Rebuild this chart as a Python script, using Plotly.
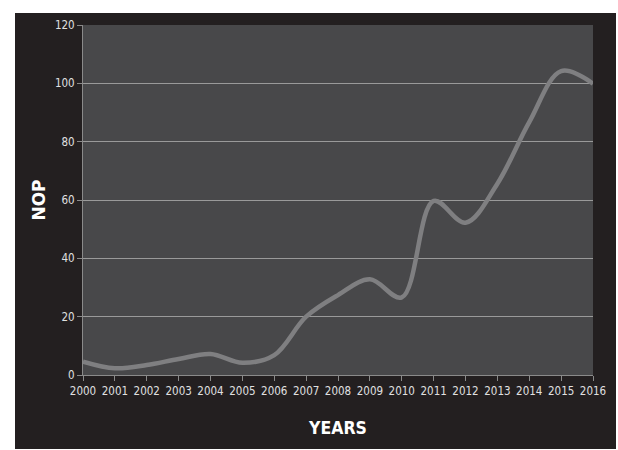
import plotly.graph_objects as go

years = list(range(2000, 2017))
nop = [4.6, 2.3, 3.4, 5.5, 7.2, 4.2, 6.8, 20.0, 27.4, 32.8, 26.6, 59.7, 52.2, 65.6, 86.7, 104.2, 99.9]
y_ticks = [0, 20, 40, 60, 80, 100, 120]

W, H = 618, 450
L, R, T, B = 83, 25, 25, 75
pw, ph = W - L - R, H - T - B

def px_x(px):
    return (px - L) / pw

def px_y(py):
    return (H - B - py) / ph

fig = go.Figure()
fig.add_trace(go.Scatter(
    x=years, y=nop, mode="lines",
    line=dict(color="#7f7f81", width=4.5, shape="spline", smoothing=1.0),
    hoverinfo="x+y", showlegend=False,
))

narrow = "DejaVu Sans Condensed, Liberation Sans Narrow, Arial Narrow, sans-serif"
tickfont = dict(family=narrow, size=11.5, color="#e0e0e0")

fig.update_layout(
    width=W, height=H,
    margin=dict(l=L, r=R, t=T, b=B, autoexpand=False),
    paper_bgcolor="#231f20",
    plot_bgcolor="#48484a",
    xaxis=dict(
        range=[2000, 2016], tickmode="array", tickvals=years, ticktext=[str(y) for y in years],
        showgrid=False, zeroline=False, showline=True, linecolor="#8a8a8a", linewidth=1,
        ticks="outside", ticklen=5, tickcolor="#8a8a8a", tickfont=tickfont, automargin=False,
        title=dict(text="<b>YEARS</b>", font=dict(family=narrow, size=17.5, color="#ffffff"), standoff=24),
    ),
    yaxis=dict(
        range=[0, 120], tickmode="array", tickvals=y_ticks,
        showgrid=True, gridcolor="#9a9a9a", gridwidth=1, zeroline=False,
        showline=True, linecolor="#8a8a8a", linewidth=1,
        ticks="outside", ticklen=5, tickcolor="#8a8a8a", tickfont=tickfont, automargin=False,
        title=dict(text="<b>NOP</b>", font=dict(family="DejaVu Sans, sans-serif", size=17, color="#ffffff"), standoff=5),
    ),
    shapes=[
        dict(type="rect", xref="paper", yref="paper", x0=px_x(0), x1=px_x(W), y0=px_y(13), y1=px_y(0),
             fillcolor="white", line=dict(width=0), layer="above"),
        dict(type="rect", xref="paper", yref="paper", x0=px_x(0), x1=px_x(15), y0=px_y(H), y1=px_y(0),
             fillcolor="white", line=dict(width=0), layer="above"),
        dict(type="rect", xref="paper", yref="paper", x0=px_x(616), x1=px_x(W), y0=px_y(H), y1=px_y(0),
             fillcolor="white", line=dict(width=0), layer="above"),
        dict(type="rect", xref="paper", yref="paper", x0=px_x(0), x1=px_x(W), y0=px_y(H), y1=px_y(449),
             fillcolor="white", line=dict(width=0), layer="above"),
    ],
)

fig.write_html("out.html", config={"displayModeBar": False},
               post_script="document.body.style.margin='0';document.body.style.overflow='hidden';")
